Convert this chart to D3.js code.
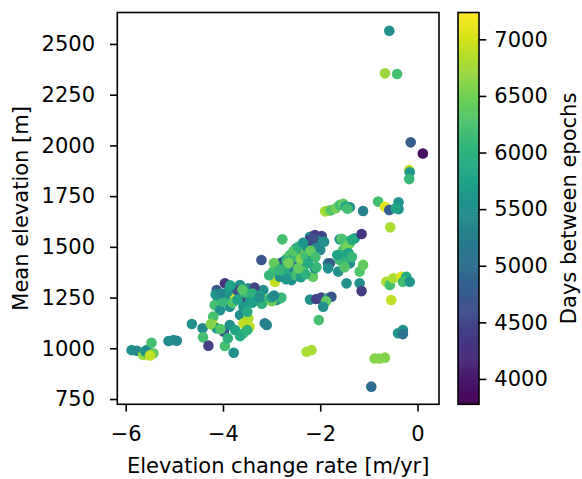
<!DOCTYPE html>
<html lang="en">
<head>
<meta charset="UTF-8">
<title>Elevation change vs elevation</title>
<script src="https://cdnjs.cloudflare.com/ajax/libs/d3/7.8.5/d3.min.js"></script>
<style>
  body { margin: 0; background: #fff; }
  svg text { font-family: "DejaVu Sans", sans-serif; fill: #000; }
</style>
</head>
<body>
<svg id="chart" width="582" height="479"></svg>
<script>
// elevation change rate [m/yr]
const rate = [
  -0.58, -0.67, -0.42, -0.14, 0.11, -0.17, -0.16, -0.17,
  -1.90, -1.84, -1.78, -1.68, -1.60, -1.53, -1.48, -1.39, -1.44, -1.12,
  -0.81, -0.67, -0.58, -0.39, -0.39, -0.45, -0.56,
  -2.78, -3.21, -2.21, -2.11, -1.97, -2.04, -2.28, -2.15, -2.35, -2.49,
  -2.62, -2.69, -2.76, -2.83, -2.90, -2.97, -2.93, -2.83, -2.66, -2.59,
  -2.49, -2.35, -2.15, -2.11, -2.42, -1.84, -2.08, -2.25, -2.55, -2.69,
  -2.62, -2.49, -2.28, -2.21, -2.07, -2.00, -2.40, -2.30, -2.18, -2.60,
  -2.75, -2.50, -2.40, -2.30, -2.70, -2.95, -3.05,
  -2.55, -2.45, -2.35, -2.20, -2.10, -2.65, -2.85, -2.70, -2.45, -2.25,
  -2.05, -2.15, -1.92,
  -1.60, -1.56, -1.50, -1.39, -1.29, -1.15, -1.53, -1.45, -1.60, -1.46,
  -1.39, -1.52, -1.80, -1.84, -1.63, -1.19, -1.12, -1.46, -1.19, -1.15,
  -1.55, -1.42, -1.35, -1.50, -1.35, -1.65,
  -2.21, -2.08, -1.98, -1.84, -1.77, -1.88, -1.94, -2.03,
  -3.96, -4.13, -3.79, -3.76, -3.65, -3.48, -3.58, -4.10, -4.17, -3.96,
  -4.06, -3.86, -3.58, -3.45, -3.31, -3.17, -3.14, -3.05, -2.83, -2.90,
  -2.80, -4.20, -3.65, -3.48, -3.90, -3.70, -3.55, -3.35, -3.40, -3.25,
  -4.00, -3.80, -3.70, -3.20, -3.00, -3.50, -4.15,
  -3.85, -3.60, -4.05, -3.40, -3.25, -3.00, -2.95,
  -4.64, -4.42, -4.41, -4.30, -4.20, -4.13, -3.96, -3.98, -4.05, -3.86,
  -3.78, -3.58, -3.45, -3.58, -3.14, -3.10, -3.75, -3.65, -3.50, -4.25, -3.90,
  -5.88, -5.77, -5.64, -5.60, -5.57, -5.47, -5.43, -5.50, -5.12, -5.02, -4.95,
  -2.28, -2.18, -0.88, -0.78, -0.67, -0.95, -0.40, -0.30, -0.30,
  -0.64, -0.57, -0.50, -0.33, -0.23, -0.30, -0.16, -0.54
];

// mean elevation [m]
const elevation = [
  2565, 2355, 2352, 2015, 1960, 1878, 1868, 1834,
  1675, 1678, 1680, 1690, 1706, 1712, 1700, 1695, 1688, 1677,
  1723, 1698, 1682, 1720, 1686, 1690, 1596,
  1537, 1435, 1550, 1558, 1553, 1548, 1509, 1501, 1476, 1468,
  1460, 1443, 1427, 1419, 1402, 1378, 1328, 1353, 1378, 1336,
  1378, 1386, 1353, 1394, 1419, 1419, 1400, 1485, 1452, 1430,
  1411, 1493, 1512, 1534, 1501, 1485, 1440, 1455, 1470, 1395,
  1390, 1360, 1350, 1365, 1360, 1420, 1360,
  1480, 1500, 1520, 1480, 1450, 1420, 1385, 1340, 1395, 1420,
  1530, 1540, 1525,
  1537, 1540, 1530, 1518, 1542, 1563, 1485, 1500, 1435, 1443,
  1419, 1420, 1419, 1394, 1378, 1378, 1411, 1320, 1320, 1282,
  1460, 1470, 1535, 1400, 1450, 1460,
  1240, 1243, 1250, 1248, 1254, 1232, 1205, 1139,
  1320, 1287, 1296, 1262, 1312, 1296, 1238, 1238, 1213, 1254,
  1188, 1205, 1205, 1238, 1238, 1287, 1238, 1240, 1246, 1238,
  1250, 1156, 1164, 1148, 1280, 1285, 1275, 1300, 1270, 1260,
  1230, 1225, 1240, 1220, 1232, 1180, 1265,
  1310, 1290, 1270, 1225, 1250, 1250, 1260,
  1120, 1099, 1054, 1013, 1115, 1099, 1011, 1082, 1095, 1115,
  978, 1123, 1106, 1074, 1123, 1115, 1090, 1060, 1090, 1120, 1050,
  991, 988, 967, 985, 991, 1027, 975, 965, 1036, 1041, 1037,
  983, 991, 950, 950, 954, 811, 1074, 1090, 1070,
  1328, 1312, 1345, 1353, 1353, 1328, 1328, 1238
];

// days between epochs
const days = [
  5500, 6700, 6200, 4800, 3900, 6900, 5600, 6100,
  6800, 6700, 6300, 6500, 6200, 6400, 5900, 5500, 6200, 5300,
  6200, 7100, 4800, 5600, 5500, 5800, 6800,
  6200, 4700, 5500, 4400, 4500, 4400, 4500, 5500, 6900, 6300,
  6200, 6300, 5500, 4700, 5500, 6200, 6900, 5500, 5600, 5500,
  7100, 6300, 6400, 5500, 5500, 5400, 6100, 5500, 6100, 6100,
  4500, 4400, 5400, 4300, 5500, 5400, 6600, 6200, 5600, 5400,
  6000, 6200, 5700, 6000, 5900, 6400, 6100,
  6300, 6000, 5600, 6400, 6200, 6500, 6100, 5600, 6400, 5900,
  5400, 4600, 5500,
  5500, 6300, 6200, 6400, 5600, 4300, 6300, 6500, 6200, 5500,
  5500, 6100, 4800, 5500, 5500, 6300, 6400, 5500, 5500, 4400,
  6000, 5800, 5900, 6300, 6100, 5800,
  5500, 4400, 4500, 6000, 4700, 6400, 5500, 6200,
  4300, 4700, 6900, 7100, 5500, 5500, 4300, 5500, 6200, 5500,
  5500, 5500, 5600, 5500, 6200, 5500, 7000, 6200, 6300, 5500,
  6100, 6200, 5500, 6800, 5600, 4600, 6100, 4500, 6000, 5800,
  6100, 6300, 5800, 6000, 6500, 5900, 5600,
  5800, 6300, 5400, 5700, 5500, 5700, 5400,
  5500, 5400, 6200, 4400, 6900, 5600, 6200, 4600, 6300, 5500,
  5500, 6900, 6900, 6200, 5200, 5300, 5800, 5900, 6000, 6600, 6000,
  5500, 5400, 6700, 5600, 5500, 6200, 6400, 6900, 5400, 5500, 5400,
  6800, 6800, 6600, 6600, 6600, 5000, 5600, 5500, 5100,
  6800, 6200, 6800, 7100, 5900, 6200, 5600, 6900
];

const xTicks = [-6, -4, -2, 0];
const yTicks = [750, 1000, 1250, 1500, 1750, 2000, 2250, 2500];
const cTicks = [4000, 4500, 5000, 5500, 6000, 6500, 7000];

const fontSize = 21;
const plot = { left: 117.3, right: 439, top: 12.5, bottom: 404.3 };
const bar = { left: 458, right: 479 };

const svg = d3.select("#chart");

const x = d3.scaleLinear().domain([-6.173, 0.442]).range([plot.left, plot.right]);
const y = d3.scaleLinear().domain([724, 2655]).range([plot.bottom, plot.top]);
const color = d3.scaleSequential(d3.interpolateViridis).domain([3776, 7237]);

const points = rate.map((r, i) => ({ r: r, e: elevation[i], d: days[i] }));

// scatter
svg.append("g")
  .selectAll("circle")
  .data(points)
  .join("circle")
  .attr("cx", d => x(d.r))
  .attr("cy", d => y(d.e))
  .attr("r", 5.3)
  .attr("fill", d => color(d.d));

// frame
svg.append("rect")
  .attr("x", plot.left).attr("y", plot.top)
  .attr("width", plot.right - plot.left)
  .attr("height", plot.bottom - plot.top)
  .attr("fill", "none").attr("stroke", "#000").attr("stroke-width", 1.6);

// axes
const fmt = d => d < 0 ? "\u2212" + Math.abs(d) : String(d);

const xAxis = svg.append("g")
  .attr("transform", `translate(0,${plot.bottom})`)
  .call(d3.axisBottom(x).tickValues(xTicks).tickFormat(fmt).tickSize(7.3).tickPadding(14));

const yAxis = svg.append("g")
  .attr("transform", `translate(${plot.left},0)`)
  .call(d3.axisLeft(y).tickValues(yTicks).tickFormat(d3.format("d")).tickSize(7.3).tickPadding(15));

[xAxis, yAxis].forEach(g => {
  g.select(".domain").remove();
  g.selectAll(".tick line").attr("stroke", "#000").attr("stroke-width", 1.6);
  g.selectAll(".tick text").attr("font-size", fontSize).attr("font-family", "DejaVu Sans");
});

svg.append("text")
  .attr("x", (plot.left + plot.right) / 2)
  .attr("y", 473)
  .attr("text-anchor", "middle")
  .attr("font-size", fontSize)
  .text("Elevation change rate [m/yr]");

svg.append("text")
  .attr("transform", `translate(28,${(plot.top + plot.bottom) / 2}) rotate(-90)`)
  .attr("text-anchor", "middle")
  .attr("font-size", fontSize)
  .text("Mean elevation [m]");

// colorbar
const cy = d3.scaleLinear().domain(color.domain()).range([plot.bottom, plot.top]);
const steps = d3.range(0, 200);
svg.append("g")
  .selectAll("rect")
  .data(steps)
  .join("rect")
  .attr("x", bar.left)
  .attr("width", bar.right - bar.left)
  .attr("y", i => plot.top + (plot.bottom - plot.top) * i / steps.length)
  .attr("height", (plot.bottom - plot.top) / steps.length + 0.5)
  .attr("fill", i => color(cy.invert(plot.top + (plot.bottom - plot.top) * (i + 0.5) / steps.length)));

svg.append("rect")
  .attr("x", bar.left).attr("y", plot.top)
  .attr("width", bar.right - bar.left)
  .attr("height", plot.bottom - plot.top)
  .attr("fill", "none").attr("stroke", "#000").attr("stroke-width", 1.6);

const cAxis = svg.append("g")
  .attr("transform", `translate(${bar.right},0)`)
  .call(d3.axisRight(cy).tickValues(cTicks).tickFormat(d3.format("d")).tickSize(7.3).tickPadding(8));
cAxis.select(".domain").remove();
cAxis.selectAll(".tick line").attr("stroke", "#000").attr("stroke-width", 1.6);
cAxis.selectAll(".tick text").attr("font-size", fontSize).attr("font-family", "DejaVu Sans");

svg.append("text")
  .attr("transform", `translate(576,${(plot.top + plot.bottom) / 2}) rotate(-90)`)
  .attr("text-anchor", "middle")
  .attr("font-size", fontSize)
  .text("Days between epochs");
</script>
</body>
</html>
